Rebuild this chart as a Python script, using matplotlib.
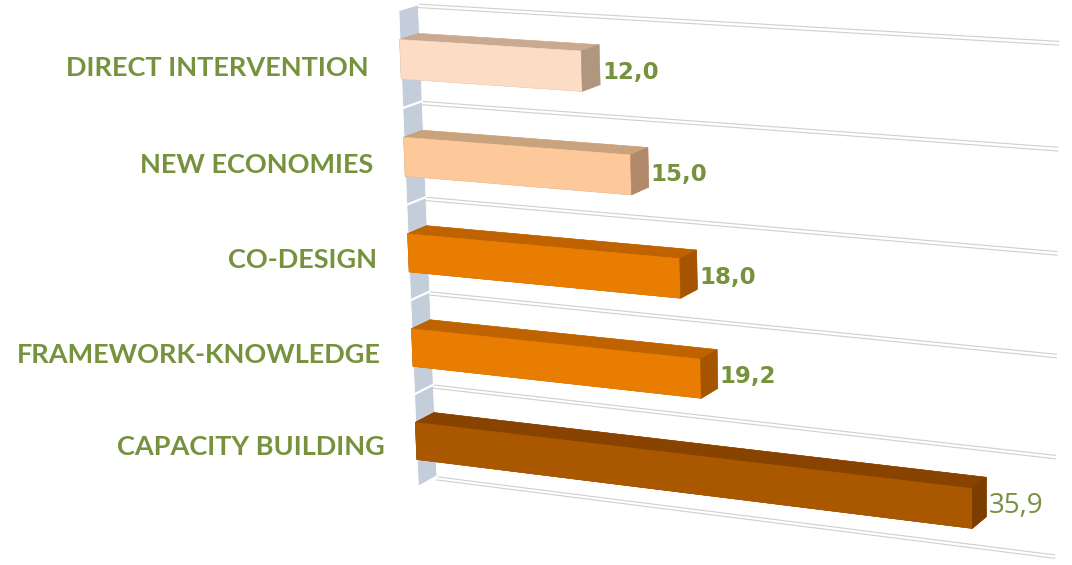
import matplotlib
matplotlib.use("Agg")
import matplotlib.pyplot as plt
import numpy as np
from mpl_toolkits.mplot3d import proj3d
from mpl_toolkits.mplot3d.art3d import Poly3DCollection

# data, bottom to top as drawn
categories = ["CAPACITY BUILDING", "FRAMEWORK-KNOWLEDGE", "CO-DESIGN",
              "NEW ECONOMIES", "DIRECT INTERVENTION"]
values = [35.9, 19.2, 18.0, 15.0, 12.0]
x_max = 40

front_colors = ["#AA5800", "#E87D02", "#E87D02", "#FDC99B", "#FCDCC4"]
top_colors = ["#884300", "#BF6300", "#BF6300", "#C9A27E", "#C9AA91"]
end_colors = ["#7C3D00", "#A55500", "#A55500", "#B08A6B", "#B0957F"]
green = "#76923C"
wall_color = "#C4CDDA"
grid_color = "#CFCFCF"

W, H = 1072, 565
S = 925
fig = plt.figure(figsize=(W / 100, H / 100), dpi=100)
ax = fig.add_axes([245 / W, -187 / H, S / W, S / H], projection="3d")
ax.set_proj_type("persp", focal_length=0.65)
ax.view_init(elev=13.8, azim=-65, roll=1.0)
ax.set_xlim(0, x_max)
ax.set_ylim(0, 1)
ax.set_zlim(0, len(categories))
ax.set_box_aspect((562, 32, 412), zoom=0.905)
ax.set_axis_off()
ax.computed_zorder = False

n = len(categories)
pos = np.arange(n)
bar_h = 0.4

# side wall at value 0
wall = Poly3DCollection([[(0, 0, 0), (0, 1, 0), (0, 1, n), (0, 0, n)]],
                        facecolor=wall_color, edgecolor="white", linewidth=0.6)
wall.set_zorder(1)
ax.add_collection3d(wall)

# gridlines on the back wall and across the side wall
for k in range(n + 1):
    for dz in (0, -0.035):
        ax.plot([0, x_max], [1, 1], [k + dz, k + dz], color=grid_color,
                lw=0.8, zorder=2)
    ax.plot([0, 0], [0, 1], [k, k], color="white", lw=1.6, zorder=2)

# face order in bar3d: -z, +z, -y, +y, -x, +x
face_colors = []
for f, t, e in zip(front_colors, top_colors, end_colors):
    face_colors += [t, t, f, f, e, e]
ax.bar3d(np.zeros(n), np.zeros(n), pos + (1 - bar_h) / 2, values,
         np.ones(n), np.full(n, bar_h), color=face_colors, shade=False,
         edgecolor=face_colors, linewidth=0.4, zorder=3)

label_style = [dict(family="Open Sans", fontweight="normal", fontsize=20)] + \
    [dict(family="DejaVu Sans", fontweight="bold", fontsize=16.5)] * 4


def to_2d(x, y, z):
    px, py, _ = proj3d.proj_transform(x, y, z, ax.get_proj())
    return px, py


for i, (c, v) in enumerate(zip(categories, values)):
    px, py = to_2d(-2.2, 0, i + 0.41)
    ax.text2D(px, py, c, transform=ax.transData, ha="right",
              va="center_baseline", color=green, fontsize=19.5,
              fontweight="bold", family="Lato", zorder=4)
    px, py = to_2d(v + 0.15, 1, i + 0.45)
    ax.text2D(px, py, f"{v:.1f}".replace(".", ","), transform=ax.transData,
              ha="left", va="center_baseline", color=green, zorder=4,
              **label_style[i])

fig.savefig("out.png", dpi=100)
